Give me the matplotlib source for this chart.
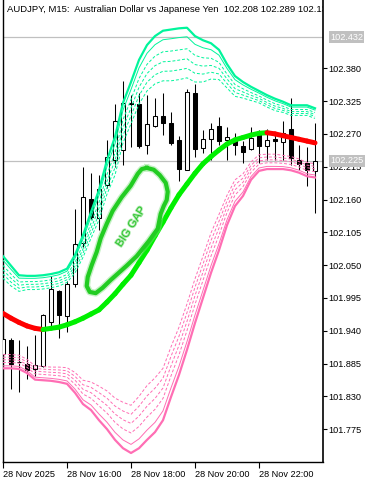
import matplotlib
matplotlib.use("Agg")
import matplotlib.pyplot as plt
from matplotlib.collections import LineCollection
import matplotlib.patheffects as pe
import numpy as np

plt.rcParams['font.family'] = ['Liberation Sans', 'DejaVu Sans']

# ---------------- data (AUDJPY M15, 28 Nov 2025 14:00 .. 23:45) ----------------
opens = [101.901, 101.924, 101.888, 101.884, 101.876, 101.881, 101.955, 102.007, 101.965, 102.019,
         102.087, 102.161, 102.129, 102.184, 102.226, 102.243, 102.321, 102.320, 102.251, 102.284,
         102.300, 102.289, 102.259, 102.209, 102.338, 102.246, 102.261, 102.284, 102.260, 102.261,
         102.250, 102.244, 102.270, 102.250, 102.261, 102.257, 102.278, 102.227, 102.221, 102.208]
highs = [101.929, 101.928, 101.924, 101.914, 101.933, 101.968, 102.032, 102.008, 102.023, 102.144,
         102.214, 102.205, 102.201, 102.259, 102.320, 102.359, 102.335, 102.338, 102.335, 102.330,
         102.339, 102.306, 102.266, 102.345, 102.354, 102.277, 102.289, 102.299, 102.282, 102.271,
         102.258, 102.282, 102.277, 102.279, 102.272, 102.291, 102.330, 102.251, 102.248, 102.289]
lows = [101.896, 101.842, 101.838, 101.859, 101.864, 101.880, 101.948, 101.928, 101.938, 102.014,
        102.080, 102.128, 102.109, 102.179, 102.215, 102.218, 102.248, 102.246, 102.236, 102.282,
        102.268, 102.251, 102.191, 102.209, 102.232, 102.238, 102.226, 102.251, 102.226, 102.235,
        102.222, 102.243, 102.222, 102.226, 102.226, 102.226, 102.218, 102.209, 102.183, 102.137]
closes = [101.926, 101.884, 101.887, 101.874, 101.882, 101.966, 102.010, 101.966, 102.019, 102.085,
          102.164, 102.131, 102.178, 102.231, 102.292, 102.321, 102.320, 102.249, 102.286, 102.300,
          102.288, 102.255, 102.211, 102.340, 102.244, 102.262, 102.279, 102.258, 102.264, 102.251,
          102.240, 102.263, 102.249, 102.259, 102.258, 102.272, 102.229, 102.219, 102.209, 102.225]

# thick trend line (red when falling, green when rising)
mid_line = [101.969, 101.961, 101.954, 101.948, 101.944, 101.942, 101.944, 101.946, 101.950, 101.955,
            101.961, 101.968, 101.975, 101.988, 102.002, 102.018, 102.033, 102.054, 102.075, 102.099,
            102.122, 102.146, 102.168, 102.186, 102.204, 102.220, 102.232, 102.243, 102.253, 102.260,
            102.264, 102.268, 102.271, 102.272, 102.270, 102.267, 102.264, 102.261, 102.258, 102.255]

# upper band (outer line) and width of its fan
upper_outer = [102.065, 102.049, 102.033, 102.032, 102.032, 102.033, 102.035, 102.038, 102.044, 102.067,
               102.100, 102.139, 102.176, 102.226, 102.265, 102.322, 102.357, 102.394, 102.419, 102.434,
               102.443, 102.445, 102.447, 102.448, 102.434, 102.427, 102.422, 102.411, 102.387, 102.367,
               102.357, 102.349, 102.342, 102.335, 102.329, 102.324, 102.318, 102.318, 102.318, 102.313]
upper_spread = [0.037, 0.034, 0.027, 0.023, 0.023, 0.023, 0.023, 0.023, 0.023, 0.030,
                0.037, 0.044, 0.050, 0.057, 0.064, 0.067, 0.070, 0.074, 0.077, 0.080,
                0.084, 0.086, 0.086, 0.084, 0.077, 0.070, 0.060, 0.050, 0.040, 0.034,
                0.027, 0.023, 0.020, 0.020, 0.020, 0.018, 0.017, 0.017, 0.017, 0.017]

# lower band (outer line) and width of its fan
lower_outer = [101.877, 101.877, 101.876, 101.869, 101.858, 101.857, 101.856, 101.854, 101.851, 101.836,
               101.817, 101.807, 101.790, 101.775, 101.757, 101.743, 101.735, 101.743, 101.757, 101.770,
               101.790, 101.829, 101.866, 101.908, 101.953, 101.995, 102.037, 102.075, 102.117, 102.149,
               102.166, 102.193, 102.208, 102.211, 102.211, 102.211, 102.209, 102.205, 102.199, 102.197]
lower_spread = [0.023, 0.023, 0.023, 0.023, 0.023, 0.023, 0.023, 0.025, 0.027, 0.034,
                0.040, 0.047, 0.057, 0.064, 0.070, 0.077, 0.080, 0.087, 0.091, 0.091,
                0.087, 0.084, 0.080, 0.077, 0.074, 0.070, 0.067, 0.060, 0.050, 0.044,
                0.037, 0.030, 0.027, 0.025, 0.025, 0.023, 0.023, 0.023, 0.023, 0.023]
fan_levels = [0.18, 0.42, 0.62, 0.81, 1.0]

# "BIG GAP" hand-drawn outline (bar index, price)
blob_idx = [17.96, 18.84, 19.59, 20.34, 20.59, 20.46, 20.09, 19.71, 19.34, 18.21, 16.71, 15.46, 14.46,
            13.46, 12.46, 11.59, 10.84, 10.46, 10.59, 11.09, 11.71, 12.21, 12.96, 13.71, 14.84, 15.96,
            16.84, 17.34]
blob_price = [102.213, 102.210, 102.201, 102.188, 102.173, 102.159, 102.149, 102.136, 102.111, 102.090,
              102.065, 102.049, 102.037, 102.025, 102.012, 102.003, 102.005, 102.015, 102.030, 102.050,
              102.072, 102.095, 102.119, 102.141, 102.164, 102.183, 102.203, 102.211]
gap_text_pos = (15.96, 102.114)

title_text = "AUDJPY, M15:  Australian Dollar vs Japanese Yen  102.208 102.289 102.137 102.225"
ytick_values = [102.380, 102.325, 102.270, 102.215, 102.160, 102.105, 102.050, 101.995,
                101.940, 101.885, 101.830, 101.775]
xtick_pos = [0, 8, 16, 24, 32]
xtick_labels = ["28 Nov 2025", "28 Nov 16:00", "28 Nov 18:00", "28 Nov 20:00", "28 Nov 22:00"]
level_line = 102.432
last_price = 102.225

# ---------------- figure ----------------
W, H = 376, 483
fig = plt.figure(figsize=(W / 100, H / 100), dpi=100)
ax = fig.add_axes([3 / W, 21 / H, 320 / W, 462 / H])
ax.set_xlim(0, 40)
ax.set_ylim(101.7199, 102.4945)

x = np.arange(len(opens))
o = np.array(opens); c = np.array(closes); hi = np.array(highs); lo = np.array(lows)

# horizontal gray lines
for lv in (level_line, last_price):
    ax.axhline(lv, color='#C0C0C0', lw=0.9, zorder=1)

# candles
ax.vlines(x, lo, hi, color='black', lw=0.75, zorder=2)
up = c >= o
ax.bar(x, np.abs(c - o), bottom=np.minimum(o, c), width=0.62,
       color=np.where(up, 'white', 'black'), edgecolor='black', linewidth=0.75, zorder=3)

# bands
green_band = '#00F59B'
pink_band = '#FF6EB4'
uo = np.array(upper_outer); us = np.array(upper_spread)
lo_b = np.array(lower_outer); ls = np.array(lower_spread)
ax.plot(x, uo, color=green_band, lw=1.6, zorder=4, solid_joinstyle='round')
ax.plot(x, lo_b, color=pink_band, lw=1.6, zorder=4, solid_joinstyle='round')
for i, f in enumerate(fan_levels):
    style = '-' if i == 0 else (0, (3, 2))
    ax.plot(x, uo - f * us, color=green_band, lw=0.7, ls=style, zorder=4)
    ax.plot(x, lo_b + f * ls, color=pink_band, lw=0.7, ls=style, zorder=4)

# thick trend line
m = np.array(mid_line)
pts = np.column_stack([x, m])
segs = np.stack([pts[:-1], pts[1:]], axis=1)
cols = ['#FF0000' if m[i + 1] < m[i] else '#00F000' for i in range(len(m) - 1)]
lc = LineCollection(segs, colors=cols, linewidths=3.6, zorder=5, capstyle='round')
ax.add_collection(lc)

# BIG GAP annotation
bx = blob_idx + blob_idx[:1]
by = blob_price + blob_price[:1]
ax.plot(bx, by, color='#7FE07F', lw=5.0, alpha=0.45, zorder=6, solid_joinstyle='round')
ax.plot(bx, by, color='#22CC22', lw=3.0, zorder=6, solid_joinstyle='round')
ax.text(gap_text_pos[0], gap_text_pos[1], "BIG GAP", rotation=57, color='#2FC42F',
        fontsize=8, ha='center', va='center', zorder=6,
        path_effects=[pe.withStroke(linewidth=1.2, foreground='#A8E8A8')])

# title
ax.text(4 / 320, 1 - 10 / 462, title_text, transform=ax.transAxes, fontsize=6.8,
        color='black', ha='left', va='center', clip_on=True, zorder=7)

# spines
ax.spines['top'].set_visible(False)
ax.spines['left'].set_linewidth(1.0)
ax.spines['bottom'].set_linewidth(1.0)
ax.spines['right'].set_linestyle((0, (3, 1)))
ax.spines['right'].set_linewidth(1.2)

# axes ticks
ax.yaxis.tick_right()
ax.set_yticks(ytick_values)
ax.set_yticklabels([f"{v:.3f}" for v in ytick_values])
ax.tick_params(axis='y', direction='out', length=3, width=0.8, labelsize=6.6, pad=1, colors='black')
ax.set_xticks(xtick_pos)
ax.set_xticklabels(xtick_labels, ha='left')
ax.tick_params(axis='x', direction='out', length=4, width=0.8, labelsize=6.6, pad=2)
for lab in ax.get_xticklabels():
    lab.set_horizontalalignment('left')

# price labels in gray boxes
for lv in (level_line, last_price):
    ax.text(1.0 + 7 / 320, lv, f"{lv:.3f}", transform=ax.get_yaxis_transform(),
            fontsize=6.6, color='white', ha='left', va='center', clip_on=False, zorder=8,
            bbox=dict(boxstyle='square,pad=0.15', facecolor='#C0C0C0', edgecolor='none'))

fig.savefig('out.png', dpi=100)
